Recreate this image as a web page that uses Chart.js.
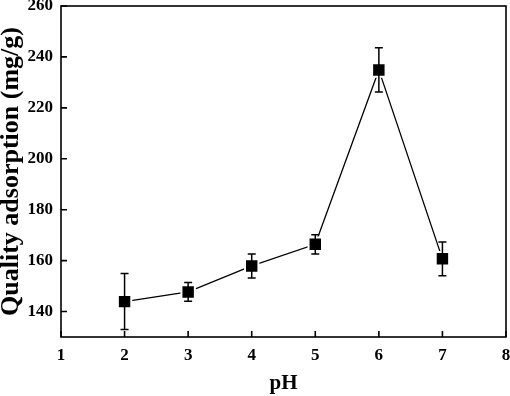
<!DOCTYPE html>
<html><head><meta charset="utf-8">
<script src="https://cdn.jsdelivr.net/npm/chart.js@4"></script>
<style>html,body{margin:0;padding:0;background:#fff}#w{width:510px;height:396px}</style>
</head><body><div id="w"><canvas id="c" width="510" height="396"></canvas></div>
<script>
const pH = [2, 3, 4, 5, 6, 7];
const adsorption = [143.9, 147.7, 157.9, 166.4, 234.9, 160.7];
const errors = [11.0, 3.7, 4.7, 3.8, 8.7, 6.6];
const xTicks = [1, 2, 3, 4, 5, 6, 7, 8];
const yTicks = [140, 160, 180, 200, 220, 240, 260];

const FONT = '"Liberation Serif", "Times New Roman", serif';

const framePlugin = {
  id: 'frame',
  afterDatasetsDraw(chart) {
    const ctx = chart.ctx, a = chart.chartArea;
    const xs = chart.scales.x, ys = chart.scales.y;
    ctx.save();
    ctx.strokeStyle = '#000';
    ctx.lineWidth = 1.5;
    pH.forEach((p, i) => {
      const x = xs.getPixelForValue(p);
      const yt = ys.getPixelForValue(adsorption[i] + errors[i]);
      const yb = ys.getPixelForValue(adsorption[i] - errors[i]);
      ctx.beginPath();
      ctx.moveTo(x, yt); ctx.lineTo(x, yb);
      ctx.moveTo(x - 4, yt); ctx.lineTo(x + 4, yt);
      ctx.moveTo(x - 4, yb); ctx.lineTo(x + 4, yb);
      ctx.stroke();
    });
    ctx.lineWidth = 1.6;
    ctx.strokeRect(a.left, a.top, a.right - a.left, a.bottom - a.top);
    ctx.beginPath();
    xTicks.forEach(v => {
      const x = xs.getPixelForValue(v);
      ctx.moveTo(x, a.bottom); ctx.lineTo(x, a.bottom - 6);
    });
    yTicks.forEach(v => {
      const y = ys.getPixelForValue(v);
      ctx.moveTo(a.left, y); ctx.lineTo(a.left + 6, y);
    });
    ctx.stroke();
    ctx.restore();
  }
};

const chart = new Chart(document.getElementById('c'), {
  type: 'line',
  data: {
    datasets: [{
      data: pH.map((p, i) => ({x: p, y: adsorption[i]})),
      borderColor: '#000',
      borderWidth: 1.3,
      backgroundColor: '#000',
      pointStyle: 'rect',
      pointRadius: 9.5,
      pointHoverRadius: 9.5,
      pointBackgroundColor: '#000',
      pointBorderColor: '#fff',
      pointBorderWidth: 2,
      clip: false,
      tension: 0
    }]
  },
  options: {
    responsive: false,
    animation: false,
    devicePixelRatio: 1,
    layout: {autoPadding: false, padding: {left: 0, right: 4, top: 6, bottom: 0}},
    plugins: {legend: {display: false}, tooltip: {enabled: false}},
    scales: {
      x: {
        type: 'linear', min: 1, max: 8,
        afterFit: s => { s.height = 59; s.paddingLeft = 0; s.paddingRight = 0; },
        afterBuildTicks: s => { s.ticks = xTicks.map(v => ({value: v})); },
        grid: {display: false, drawTicks: false},
        border: {display: false},
        ticks: {color: '#000', padding: 8, font: {family: FONT, size: 17, weight: 'bold'}},
        title: {display: true, text: 'pH', color: '#000', padding: 0,
                font: {family: FONT, size: 21, weight: 'bold'}}
      },
      y: {
        type: 'linear', min: 130, max: 260,
        afterFit: s => { s.width = 61; s.paddingTop = 0; s.paddingBottom = 0; },
        afterBuildTicks: s => { s.ticks = yTicks.map(v => ({value: v})); },
        grid: {display: false, drawTicks: false},
        border: {display: false},
        ticks: {color: '#000', padding: 8, font: {family: FONT, size: 17, weight: 'bold'}},
        title: {display: true, text: 'Quality adsorption (mg/g)', color: '#000', padding: 0,
                font: {family: FONT, size: 26, weight: 'bold', lineHeight: 0.9}}
      }
    }
  },
  plugins: [framePlugin]
});
</script>
</body></html>
